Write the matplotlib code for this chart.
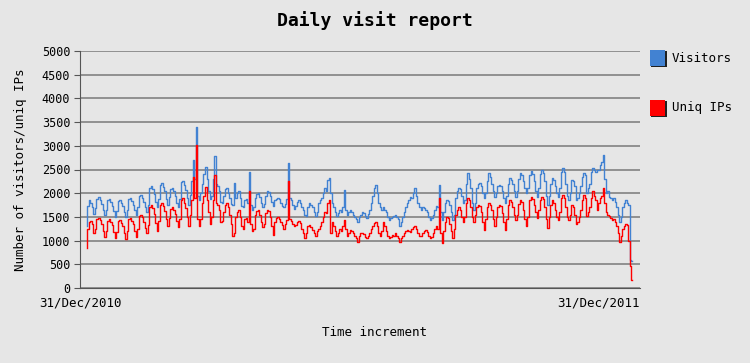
import numpy as np
import matplotlib
matplotlib.use("Agg")
import matplotlib.pyplot as plt
from matplotlib.patches import Rectangle

title = "Daily visit report"
x_label = "Time increment"
y_label = "Number of visitors/uniq IPs"
x_tick_labels = ["31/Dec/2010", "31/Dec/2011"]
series_names = ["Visitors", "Uniq IPs"]
y_ticks = list(range(0, 5001, 500))

# daily values, one row per week
visitors = [
    1300, 1720, 1850, 1800, 1700, 1560, 1680,
    1880, 1920, 1860, 1780, 1640, 1530, 1650,
    1850, 1880, 1820, 1740, 1620, 1500, 1620,
    1830, 1860, 1800, 1720, 1600, 1490, 1640,
    1870, 1890, 1830, 1760, 1650, 1550, 1700,
    1940, 1960, 1900, 1820, 1700, 1600, 1760,
    2100, 2160, 2080, 1980, 1820, 1700, 1880,
    2180, 2220, 2140, 2040, 1880, 1760, 1920,
    2080, 2110, 2040, 1950, 1800, 1700, 1880,
    2230, 2260, 2180, 2060, 1900, 1760, 1960,
    2250, 2700, 2300, 3400, 1950, 1850, 2000,
    2200, 2400, 2560, 2300, 2050, 1870, 1950,
    2300, 2780, 2200, 2150, 2050, 1820, 1800,
    1950, 2080, 2120, 2000, 1900, 1780, 1750,
    2210, 1900, 2000, 2050, 1900, 1720, 1700,
    1850, 1880, 1800, 2450, 1750, 1650, 1700,
    1900, 1980, 2000, 1920, 1800, 1700, 1780,
    1950, 2050, 2020, 1950, 1820, 1740, 1860,
    1880, 1900, 1870, 1800, 1740, 1700, 1780,
    1880, 2640, 1900, 1850, 1750, 1660, 1720,
    1820, 1850, 1800, 1700, 1650, 1550, 1520,
    1700, 1800, 1760, 1700, 1600, 1520, 1600,
    1800, 1850, 1900, 2000, 2100, 2050, 2280,
    2320, 2000, 1800, 1700, 1600, 1520, 1580,
    1650, 1600, 1700, 2070, 1650, 1550, 1600,
    1650, 1600, 1550, 1500, 1450, 1400, 1500,
    1550, 1600, 1580, 1520, 1480, 1560, 1650,
    1800, 1950, 2100, 2180, 2000, 1800, 1700,
    1650, 1700, 1650, 1600, 1500, 1440, 1480,
    1500, 1520, 1550, 1500, 1450, 1300, 1400,
    1500, 1600, 1700, 1800, 1850, 1930, 1900,
    2000, 2100, 1950, 1800, 1700, 1650, 1700,
    1680, 1650, 1600, 1500, 1440, 1480, 1550,
    1650, 1720, 1700, 2180, 1600, 1440, 1600,
    1800, 1860, 1840, 1750, 1600, 1440, 1550,
    1900, 2050, 2100, 2080, 1950, 1800, 1850,
    2200, 2420, 2300, 2100, 1800, 1650, 1800,
    2100, 2200, 2210, 2150, 2000, 1900, 2000,
    2250, 2420, 2350, 2200, 2050, 1930, 2000,
    2150, 2180, 2150, 2050, 1900, 1800, 1950,
    2200, 2320, 2280, 2200, 2050, 1930, 2050,
    2300, 2420, 2380, 2250, 2100, 2000, 2100,
    2380, 2460, 2400, 2250, 2050, 1930, 2100,
    2400, 2490, 2420, 2250, 1950, 1760, 1950,
    2200, 2320, 2280, 2150, 2000, 1930, 2100,
    2450, 2530, 2450, 2200, 1950, 1860, 2000,
    2280, 2250, 2150, 1860, 1900, 2000, 2150,
    2350, 2420, 2380, 2000, 2100, 2200, 2450,
    2530, 2480, 2450, 2500, 2480, 2600, 2650,
    2810, 2300, 2000, 2050, 1930, 1900, 1860,
    1900, 1820, 1700, 1550, 1400, 1500, 1700,
    1800, 1860, 1800, 1750, 600, 560,
]

uniq_ips = [
    850, 1250, 1400, 1420, 1350, 1150, 1250,
    1450, 1480, 1430, 1350, 1200, 1080, 1200,
    1420, 1450, 1400, 1320, 1180, 1050, 1180,
    1420, 1440, 1380, 1300, 1160, 1040, 1200,
    1450, 1480, 1420, 1340, 1200, 1080, 1250,
    1520, 1550, 1500, 1400, 1260, 1150, 1320,
    1700, 1750, 1680, 1560, 1380, 1200, 1420,
    1760, 1800, 1720, 1620, 1450, 1300, 1480,
    1660, 1700, 1640, 1560, 1420, 1280, 1450,
    1860, 1900, 1800, 1680, 1500, 1300, 1550,
    1850, 2350, 1900, 3020, 1450, 1300, 1450,
    1800, 1950, 2140, 1850, 1600, 1350, 1500,
    1850, 2390, 1800, 1750, 1650, 1400, 1420,
    1600, 1750, 1800, 1700, 1550, 1350, 1100,
    1150, 1500, 1600, 1650, 1500, 1300, 1250,
    1450, 1480, 1400, 2050, 1350, 1200, 1250,
    1550, 1620, 1650, 1550, 1400, 1280, 1350,
    1580, 1650, 1620, 1500, 1300, 1120, 1400,
    1480, 1500, 1460, 1400, 1320, 1250, 1350,
    1440, 2250, 1450, 1420, 1350, 1300, 1320,
    1400, 1420, 1380, 1250, 1150, 1050, 1150,
    1300, 1320, 1280, 1220, 1150, 1100, 1200,
    1250, 1300, 1400, 1500, 1600, 1580, 1800,
    1860, 1160, 1400, 1300, 1200, 1090, 1150,
    1250, 1200, 1300, 1440, 1250, 1100, 1150,
    1230, 1200, 1150, 1100, 1050, 980, 1100,
    1150, 1160, 1130, 1080, 1050, 1100, 1150,
    1250, 1300, 1380, 1400, 1300, 1150, 1100,
    1200, 1400, 1300, 1200, 1100, 1050, 1080,
    1120, 1100, 1150, 1100, 1050, 980, 1050,
    1100, 1160, 1200, 1230, 1200, 1180, 1250,
    1280, 1300, 1250, 1150, 1100, 1090, 1150,
    1200, 1230, 1180, 1100, 1050, 1080, 1150,
    1250, 1300, 1250, 1900, 1150, 950, 1200,
    1400, 1500, 1480, 1350, 1200, 1050, 1250,
    1550, 1650, 1700, 1650, 1500, 1400, 1500,
    1800, 1900, 1850, 1700, 1500, 1400, 1550,
    1700, 1760, 1740, 1600, 1400, 1230, 1450,
    1700, 1790, 1760, 1650, 1450, 1300, 1500,
    1700, 1760, 1720, 1580, 1400, 1230, 1450,
    1750, 1860, 1820, 1700, 1550, 1440, 1550,
    1780, 1860, 1820, 1650, 1450, 1300, 1500,
    1850, 1930, 1880, 1750, 1600, 1475, 1650,
    1850, 1930, 1880, 1700, 1450, 1265, 1500,
    1750, 1860, 1800, 1650, 1500, 1440, 1600,
    1900, 1970, 1900, 1700, 1500, 1440, 1550,
    1760, 1700, 1550, 1340, 1400, 1500, 1650,
    1850, 1970, 1900, 1510, 1600, 1700, 1900,
    2040, 1950, 1850, 1650, 1800, 1900, 1950,
    2110, 1800, 1600, 1550, 1510, 1480, 1440,
    1450, 1400, 1300, 1150, 980, 1100, 1250,
    1300, 1340, 1320, 1000, 470, 170,
]

BG = "#e6e6e6"
BLUE = "#4282d2"
RED = "#ff0000"
FONT = ["DejaVu Sans Mono"]
plt.rcParams["font.family"] = FONT

fig = plt.figure(figsize=(7.5, 3.63), dpi=100, facecolor=BG)
W, H = 750, 363
# axes: x 80..640 px, y 51..288 px
ax = fig.add_axes([80 / W, (H - 288) / H, 560 / W, (288 - 51) / H], facecolor=BG)

days = np.arange(len(visitors))
ax.plot(days, visitors, color=BLUE, lw=1.0, drawstyle="steps-mid", zorder=3)
ax.plot(np.arange(len(uniq_ips)), uniq_ips, color=RED, lw=1.0,
        drawstyle="steps-mid", zorder=4)

px_per_day = 1.507
ax.set_xlim((80 - 86.7) / px_per_day, (640 - 86.7) / px_per_day)
ax.set_ylim(0, 5000)
ax.set_yticks(y_ticks)
ax.set_yticklabels([str(v) for v in y_ticks], fontsize=8.5)
ax.set_xticks([])
ax.yaxis.grid(True, color="#8a8a8a", lw=1.3)
ax.set_axisbelow(True)
ax.tick_params(axis="y", length=4, color="#555555", pad=3)
for s in ("top", "right"):
    ax.spines[s].set_visible(False)
ax.spines["left"].set_color("#555555")
ax.spines["bottom"].set_color("#555555")

# x labels at the ends of the axis
ax.text(0.0, -0.035, x_tick_labels[0], transform=ax.transAxes, ha="center",
        va="top", fontsize=9)
ax.text(1.0, -0.035, x_tick_labels[1], transform=ax.transAxes, ha="right",
        va="top", fontsize=9)

fig.text(375 / W, 1 - 21 / H, title, ha="center", va="center", fontsize=13,
         fontweight="bold")
fig.text(375 / W, 1 - 333 / H, x_label, ha="center", va="center", fontsize=9)
fig.text(21 / W, 1 - 170 / H, y_label, ha="center", va="center", fontsize=9,
         rotation=90)

# legend boxes
for i, (name, col) in enumerate(zip(series_names, [BLUE, RED])):
    top = 50 + i * 50
    fig.patches.append(Rectangle((651 / W, 1 - (top + 17) / H), 16 / W, 16 / H,
                                 transform=fig.transFigure, facecolor="#202020",
                                 edgecolor="none"))
    fig.patches.append(Rectangle((650 / W, 1 - (top + 16) / H), 15 / W, 16 / H,
                                 transform=fig.transFigure, facecolor=col,
                                 edgecolor="none"))
    fig.text(672 / W, 1 - (top + 8) / H, name, ha="left", va="center",
             fontsize=9)

fig.savefig("out.png", dpi=100, facecolor=BG)
